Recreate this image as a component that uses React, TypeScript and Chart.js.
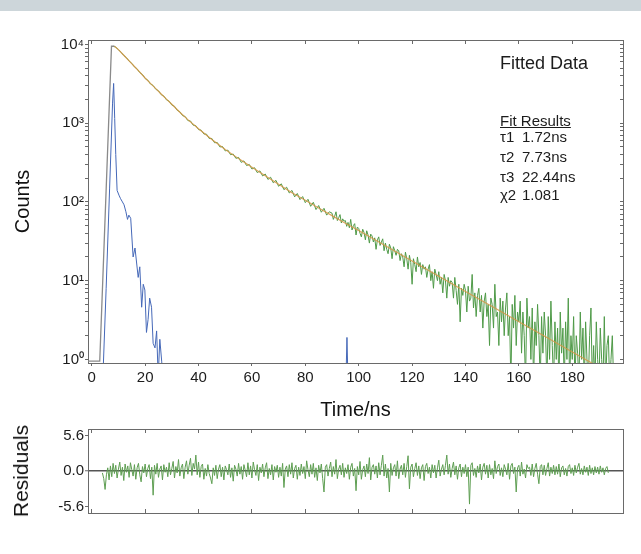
import React, { useEffect, useRef } from "react";
import { Chart, registerables } from "chart.js";
Chart.register(...registerables);

const FONT = "'Liberation Sans', Arial, Helvetica, sans-serif";
const INK = "#1c1c1c";
const AXIS = "#6a6a6a";

// ---- tick labels ----
const xTickValues = [0, 20, 40, 60, 80, 100, 120, 140, 160, 180];
const xTickLabels = ["0", "20", "40", "60", "80", "100", "120", "140", "160", "180"];
const yTickValues = [1, 10, 100, 1000, 10000];
const yTickLabels = ["10⁰", "10¹", "10²", "10³", "10⁴"];
const resTickValues = [-5.6, 0, 5.6];
const resTickLabels = ["-5.6", "0.0", "5.6"];

// ---- measured decay (green): 1 ns channels from 8 ns, then 0.5 ns channels from 90 ns ----
const earlyStart = 8;
const earlyStep = 1;
const earlyCounts = [
  9500, 9250, 8600, 7950, 7250, 6800, 6150, 5750, 5200, 4900,
  4400, 4150, 3700, 3520, 3150, 3010, 2700, 2580, 2310, 2210,
  1980, 1900, 1700, 1640, 1460, 1400, 1250, 1215, 1080, 1065,
  945, 930, 830, 815, 730, 725, 640, 640, 565, 570,
  500, 505, 445, 455, 398, 405, 358, 368, 318, 332,
  290, 300, 262, 272, 236, 248, 214, 226, 193, 206,
  175, 188, 158, 170, 143, 154, 130, 140, 116, 128,
  107, 117, 98, 108, 88, 99, 80, 90, 74, 83,
  68, 75,
];
const lateStart = 90;
const lateStep = 0.5;
const lateCounts = [
  72, 60, 66, 75, 58, 63, 69, 54, 61, 57,
  58, 49, 55, 47, 60, 44, 50, 53, 38, 48,
  46, 40, 36, 45, 41, 33, 43, 38, 30, 39,
  37, 31, 35, 25, 33, 36, 28, 31, 34, 24,
  30, 25, 22, 29, 26, 19, 27, 24, 21, 25,
  24, 18, 22, 20, 15, 23, 19, 14, 21, 17,
  9, 19, 16, 13, 20, 15, 17, 12, 16, 14,
  15, 11, 14, 16, 10, 13, 8, 14, 12, 10,
  13, 9, 11, 7, 12, 10, 6, 11, 8.5, 10,
  9.5, 6, 11, 7.5, 5, 9, 3, 8, 6.5, 9,
  7.5, 4, 8.5, 5.5, 6, 12, 4.5, 7, 3.5, 6.5,
  8, 4, 6.5, 2.5, 5.5, 7, 3.5, 5, 1.5, 6,
  5, 2.5, 9, 3.5, 4, 1.5, 6, 3, 5.5, 2,
  4.5, 7, 2, 3.5, 0.5, 5, 2.5, 6.5, 1.5, 4,
  3, 5.5, 1.2, 4, 2, 0.5, 6, 2.5, 3.5, 1,
  4.5, 0.5, 3, 1.5, 5, 2, 0.5, 3.5, 1.2, 4,
  2, 0.5, 3.5, 1, 5.5, 1.5, 0.5, 3, 1, 2.5,
  0.5, 4, 1.2, 2.5, 0.5, 3, 1, 6, 0.5, 2,
  1, 3.5, 0.5, 2, 1.2, 0.5, 4, 1, 2.5, 0.5,
  3, 1, 0.5, 2, 4.5, 0.5, 1.5, 0.5, 3, 1,
  0.5, 2.5, 1, 0.5, 3.5, 0.5, 1.5, 2, 0.5, 1,
  2, 0.5,
];

// ---- fitted curve (orange) ----
const fitTimes = [8.5, 10, 12, 14, 16, 18, 20, 22, 24, 26, 28, 30, 33, 36, 40, 45, 50, 55, 60, 65, 70, 75, 80, 85, 90, 95, 100, 110, 120, 130, 140, 150, 160, 170, 180, 190];
const fitCounts = [9500, 8600, 7300, 6200, 5250, 4450, 3750, 3200, 2750, 2350, 2020, 1740, 1380, 1110, 850, 620, 465, 355, 275, 215, 168, 131, 105, 84, 67, 53.5, 43.3, 27.8, 17.8, 11.4, 7.3, 4.7, 3.0, 1.94, 1.24, 0.8];

// ---- rising edge (grey) ----
const riseTimes = [-1.4, 3.0, 4.1, 5.2, 6.3, 7.4, 8.5];
const riseCounts = [0.95, 0.95, 9.5, 95, 950, 9500, 9500];

// ---- instrument response (blue) ----
const irfTimes = [4.1, 5.4, 6.7, 7.8, 8.2, 8.6, 9.0, 9.5, 10.2, 10.8, 11.5, 12.1, 12.8, 13.4, 13.9, 14.6, 15.5, 16.2, 17.4, 18.0, 18.7, 19.3, 19.9, 20.5, 21.1, 21.7, 22.4, 23.0, 23.7, 24.3, 24.9, 25.5, 26.2, 26.8, 95.2, 95.6, 96.0, 195];
const irfCounts = [0.5, 8, 150, 1800, 3200, 1150, 400, 140, 122, 110, 100, 92, 75, 60, 68, 62, 20, 26, 11, 15, 4.6, 9, 7.6, 2.2, 3.2, 6, 4.6, 1.6, 1.4, 2.3, 0.6, 1.8, 0.95, 0.5, 0.5, 1.9, 0.5, 0.5];

// ---- residuals, 0.5 ns channels starting at 4 ns ----
const residStart = 4;
const residStep = 0.5;
const residuals = [
  -0.3, -1.2, -2.9, -0.6, 0.5, -1.4, 0.8, -0.9, 1.2, -0.4,
  0.9, -1.1, 0.3, 1.4, -0.7, 0.6, -1.5, 1.1, -0.2, 0.8,
  -1.0, 1.3, 0.2, -0.8, 1.0, -1.3, 0.5, 1.2, -0.6, -1.7,
  0.7, -0.3, 1.1, -0.9, 0.4, 1.0, -1.2, 0.6, -3.8, 0.9,
  -0.5, 1.2, -1.0, 0.3, 0.8, -1.4, 1.0, -0.2, 0.6, -0.9,
  1.3, -0.6, 0.4, 1.5, -1.1, 0.7, -0.3, 1.8, -0.8, 0.5,
  1.1, -1.2, 0.6, 1.6, -0.5, 0.9, 2.0, -0.7, 1.2, 0.3,
  2.5, -0.6, 1.4, -1.0, 0.7, 1.1, -1.3, 0.4, -0.8, 1.0,
  -0.4, -1.1, -2.0, 0.5, -0.7, 0.9, -1.2, 0.3, 1.0, -0.9,
  0.6, -1.4, 0.8, 0.2, -0.6, 1.1, -1.0, 0.5, -1.6, 0.9,
  0.3, -0.8, 1.2, -0.5, 0.7, -1.3, 1.0, 0.1, -0.9, 1.3,
  -0.6, 0.8, -1.1, 1.4, 0.2, -0.7, 1.0, -1.5, 0.6, -0.3,
  1.1, -0.9, 0.5, 1.3, -1.2, 0.4, -0.6, 1.0, -1.4, 0.7,
  -0.2, 0.9, -1.0, 0.6, -0.8, 1.2, -2.6, 0.3, 0.8, -0.9,
  1.0, -0.5, 1.3, -1.1, 0.4, 0.9, -1.3, 0.6, -0.7, 1.1,
  -0.4, 0.7, -1.2, 1.6, 0.2, -0.9, 1.0, -0.5, 1.2, -1.0,
  0.5, -1.5, 0.9, -0.3, 1.1, -1.2, -3.3, 0.6, 1.0, -0.8,
  0.4, 1.4, -0.9, 0.7, -0.5, 1.8, -1.2, 0.3, 0.9, -0.6,
  1.2, -1.0, 0.5, -0.4, 1.0, -1.3, 0.6, 1.2, -0.8, 0.4,
  -3.1, 0.7, -0.6, 1.5, -1.3, 0.2, 0.8, -0.9, 1.1, -0.4,
  2.1, -1.4, 0.6, 1.0, -0.5, 0.8, -1.1, 1.3, -0.6, 0.9,
  2.5, -0.8, 1.1, -1.1, 0.4, -3.3, 1.2, -0.7, 0.5, 1.0,
  -0.8, 1.6, -1.2, 0.3, 0.9, -0.6, 1.2, -1.0, 0.7, 2.4,
  -2.8, 0.6, 1.1, -0.9, 0.4, 1.3, -0.7, 0.8, -1.2, 0.5,
  1.0, -1.5, 0.7, 1.2, -0.4, 0.6, -1.1, 1.0, -0.3, 0.9,
  -1.1, 0.5, 1.7, -0.8, 0.3, 1.0, -0.6, 0.9, 2.5, -0.5,
  1.1, -1.0, 0.4, 1.4, -0.6, 0.8, -1.3, 0.5, 1.1, -0.9,
  0.6, -0.4, 1.0, -0.9, 0.6, -5.2, 0.9, 1.3, -0.7, 0.4,
  -1.0, 0.8, -0.3, 1.1, -1.4, 0.6, 1.2, -0.5, 0.9, -1.1,
  1.0, -0.6, 0.4, -1.2, 1.6, -0.4, 0.7, 1.1, -0.7, 0.5,
  -0.9, 1.0, 0.3, -0.6, 1.2, -1.3, 0.8, 1.2, -0.4, 0.6,
  -3.3, 0.5, 0.9, -0.8, 1.4, -0.5, 0.3, -1.1, 1.0, 0.4,
  0.6, -0.7, 1.1, -0.9, 0.4, 1.2, -0.5, -2.0, 0.7, 1.0,
  -0.6, 0.9, -0.7, 0.4, 1.3, -0.8, 0.6, -0.4, 0.9, -0.6,
  0.7, -0.5, 1.1, -0.9, 0.5, 0.8, -0.6, 0.4, -0.8, 0.7,
  1.0, -0.4, 0.5, -0.7, 0.9, -0.3, 0.6, 1.2, -0.5, 0.4,
  -0.6, 0.8, -0.2, 0.6, -0.7, 0.9, -0.4, 0.5, -0.6, 0.7,
  -0.3, 0.6, -0.5, 0.8, -0.2, 0.5, -0.6, 0.4, 0.7, -0.3,
];

// ---- annotation text ----
const legendTitle = "Fitted Data";
const resultsTitle = "Fit Results";
const resultSymbols = ["τ1", "τ2", "τ3", "χ2"];
const resultValues = ["1.72ns", "7.73ns", "22.44ns", "1.081"];

// ---- axis ranges ----
const X_MIN = -1.4;
const X_MAX = 199;
const Y_MIN = 0.9;
const Y_MAX = 11400;
const R_MIN = -6.6;
const R_MAX = 6.6;

const logMinor: number[] = [];
yTickValues.slice(0, -1).forEach((d) => [2, 3, 4, 5, 6, 7, 8, 9].forEach((m) => logMinor.push(d * m)));
const yAllTicks = [...yTickValues, ...logMinor].sort((a, b) => a - b);

const pairs = (xs: number[], ys: number[]) => xs.map((x, i) => ({ x, y: ys[i] }));
const series = (start: number, step: number, ys: number[]) => ys.map((y, i) => ({ x: start + i * step, y }));
const labelFor = (vals: number[], labels: string[]) => (v: any) => {
  const i = vals.indexOf(Number(v));
  return i >= 0 ? labels[i] : "";
};
const setTicks = (vals: number[]) => (s: any) => {
  s.ticks = vals.map((v) => ({ value: v }));
};

const tickFont = { family: FONT, size: 15 };

function hiddenAxis(type: string, position: string, min: number, max: number, ticks: number[], size: number, tl: number) {
  const horiz = position === "top" || position === "bottom";
  return {
    type,
    position,
    min,
    max,
    afterBuildTicks: setTicks(ticks),
    afterFit: (s: any) => {
      if (horiz) s.height = size;
      else s.width = size;
    },
    grid: { drawOnChartArea: false, drawTicks: tl !== 0, tickLength: tl, tickColor: AXIS, tickWidth: 1 },
    border: { display: true, color: AXIS, width: 1 },
    ticks: { display: false, autoSkip: false },
  };
}

export default function App() {
  const topRef = useRef<HTMLCanvasElement>(null);
  const botRef = useRef<HTMLCanvasElement>(null);

  useEffect(() => {
    Chart.defaults.font.family = FONT;
    Chart.defaults.color = INK;

    const common: any = {
      responsive: false,
      animation: false,
      events: [],
      layout: { padding: 0 },
      plugins: { legend: { display: false }, tooltip: { enabled: false } },
      elements: { point: { radius: 0 }, line: { tension: 0 } },
    };

    const measured = [...series(earlyStart, earlyStep, earlyCounts), ...series(lateStart, lateStep, lateCounts)];

    const top = new Chart(topRef.current as HTMLCanvasElement, {
      type: "line",
      data: {
        datasets: [
          { label: "Fit", data: pairs(fitTimes, fitCounts), borderColor: "rgba(214,150,70,0.85)", borderWidth: 1.2, pointRadius: 0, order: 0 },
          { label: "Rise", data: pairs(riseTimes, riseCounts), borderColor: "#8a8a8a", borderWidth: 1.3, pointRadius: 0, order: 1 },
          { label: "IRF", data: pairs(irfTimes, irfCounts), borderColor: "#4568b8", borderWidth: 1, pointRadius: 0, order: 2 },
          { label: "Data", data: measured, borderColor: "#4f9a48", borderWidth: 1, pointRadius: 0, order: 3 },
        ],
      },
      options: {
        ...common,
        scales: {
          x: {
            type: "linear",
            position: "bottom",
            min: X_MIN,
            max: X_MAX,
            afterBuildTicks: setTicks(xTickValues),
            afterFit: (s: any) => {
              s.height = 67;
            },
            grid: { drawOnChartArea: false, drawTicks: true, tickLength: 3, tickColor: AXIS, tickWidth: 1 },
            border: { display: true, color: AXIS, width: 1 },
            ticks: { autoSkip: false, maxRotation: 0, padding: 3, color: INK, font: tickFont, callback: labelFor(xTickValues, xTickLabels) },
            title: { display: true, text: "Time/ns", color: "#111", font: { family: FONT, size: 20 }, padding: { top: 0, bottom: 8 } },
          },
          xTop: hiddenAxis("linear", "top", X_MIN, X_MAX, xTickValues, 40, -4),
          y: {
            type: "logarithmic",
            position: "left",
            min: Y_MIN,
            max: Y_MAX,
            afterBuildTicks: setTicks(yAllTicks),
            afterFit: (s: any) => {
              s.width = 88;
            },
            grid: { drawOnChartArea: false, drawTicks: true, tickLength: 3, tickColor: AXIS, tickWidth: 1 },
            border: { display: true, color: AXIS, width: 1 },
            ticks: { autoSkip: false, padding: 1, color: INK, font: tickFont, callback: labelFor(yTickValues, yTickLabels) },
            title: { display: true, text: "Counts", color: "#111", font: { family: FONT, size: 20 }, padding: { top: 11, bottom: 0 } },
          },
          yRight: hiddenAxis("logarithmic", "right", Y_MIN, Y_MAX, yAllTicks, 18, -3),
        },
      } as any,
    });

    const bot = new Chart(botRef.current as HTMLCanvasElement, {
      type: "line",
      data: {
        datasets: [
          { label: "Residuals", data: series(residStart, residStep, residuals), borderColor: "#5e9e52", borderWidth: 1, pointRadius: 0 },
        ],
      },
      options: {
        ...common,
        scales: {
          x: hiddenAxis("linear", "bottom", X_MIN, X_MAX, xTickValues, 41, -4),
          xTop: hiddenAxis("linear", "top", X_MIN, X_MAX, xTickValues, 14, -4),
          y: {
            type: "linear",
            position: "left",
            min: R_MIN,
            max: R_MAX,
            afterBuildTicks: setTicks(resTickValues),
            afterFit: (s: any) => {
              s.width = 88;
            },
            grid: {
              drawOnChartArea: true,
              drawTicks: true,
              tickLength: 3,
              tickColor: AXIS,
              tickWidth: 1,
              color: (c: any) => (c.tick && c.tick.value === 0 ? "#555555" : "rgba(0,0,0,0)"),
              lineWidth: (c: any) => (c.tick && c.tick.value === 0 ? 1.5 : 1),
            },
            border: { display: true, color: AXIS, width: 1 },
            ticks: { autoSkip: false, padding: 1, color: INK, font: tickFont, callback: labelFor(resTickValues, resTickLabels) },
          },
          yRight: hiddenAxis("linear", "right", R_MIN, R_MAX, resTickValues, 18, 0),
        },
      } as any,
    });

    return () => {
      top.destroy();
      bot.destroy();
    };
  }, []);

  const rowTops = [128, 148, 167.5, 186];

  return (
    <div
      style={{
        position: "fixed",
        left: 0,
        top: 0,
        width: 641,
        height: 554,
        background: "#ffffff",
        overflow: "hidden",
        fontFamily: FONT,
        color: INK,
      }}
    >
      <div style={{ position: "absolute", left: 0, top: 0, width: 641, height: 11, background: "#cdd6da" }} />
      <canvas ref={topRef} width={641} height={430} style={{ position: "absolute", left: 0, top: 0, display: "block" }} />
      <canvas ref={botRef} width={641} height={139} style={{ position: "absolute", left: 0, top: 415, display: "block" }} />

      <div style={{ position: "absolute", left: 500, top: 53, fontSize: 18, lineHeight: "20px", whiteSpace: "nowrap" }}>{legendTitle}</div>
      <div style={{ position: "absolute", left: 500, top: 111.5, fontSize: 15, lineHeight: "18px", whiteSpace: "nowrap", textDecoration: "underline" }}>
        {resultsTitle}
      </div>
      {resultSymbols.map((s, i) => (
        <React.Fragment key={s}>
          <div style={{ position: "absolute", left: 500, top: rowTops[i], fontSize: 15, lineHeight: "18px", whiteSpace: "nowrap" }}>{s}</div>
          <div style={{ position: "absolute", left: 522, top: rowTops[i], fontSize: 15, lineHeight: "18px", whiteSpace: "nowrap" }}>{resultValues[i]}</div>
        </React.Fragment>
      ))}
      <div
        style={{
          position: "absolute",
          left: 21,
          top: 471,
          fontSize: 21,
          lineHeight: "24px",
          whiteSpace: "nowrap",
          color: "#111",
          transform: "translate(-50%, -50%) rotate(-90deg)",
        }}
      >
        Residuals
      </div>
    </div>
  );
}
